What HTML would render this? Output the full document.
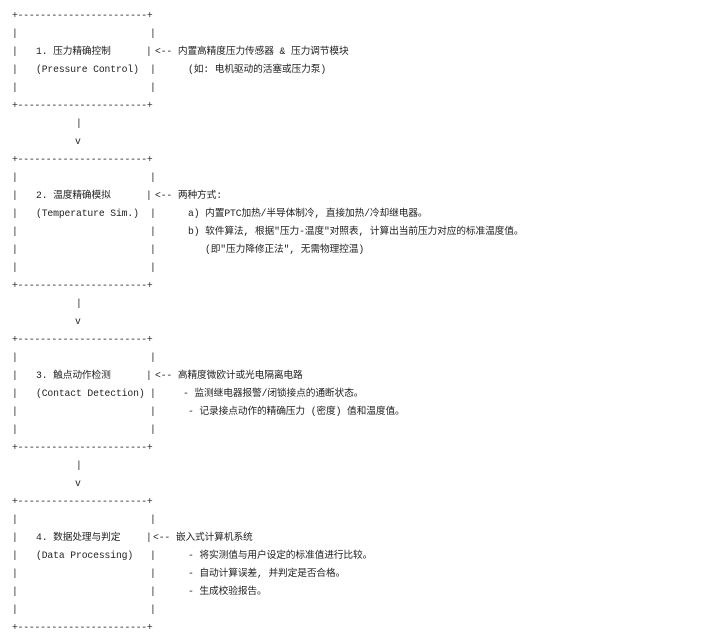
<!DOCTYPE html>
<html><head><meta charset="utf-8"><style>
html,body{margin:0;padding:0;background:#fff;}
body{width:709px;height:635px;position:relative;overflow:hidden;
font-family:"Liberation Mono","Noto Sans CJK SC",monospace;font-size:9.72px;color:#222;}
span{position:absolute;white-space:pre;line-height:18px;height:18px;letter-spacing:-0.12px;}
span.b{letter-spacing:-0.21px;}
</style></head><body>
<script>
const R=[];
function t(i,x,s,c){R.push(`<span${c?' class="b"':''} style="top:${7+18*i}px;left:${x}px">${s}</span>`);}
const B="+-----------------------+";
function bars(i,rx){t(i,12,"|");t(i,rx===undefined?150:rx,"|");}
function box(s,e){t(s,12,B,1);t(e,12,B,1);for(let i=s+1;i<e;i++)bars(i,i==s+2?146:150);}
box(0,5);box(8,15);box(18,24);box(27,34);
[6,16,25].forEach(i=>{t(i,76,"|");t(i+1,75,"v");});
t(2,36,"1. 压力精确控制");t(2,155,"&lt;-- 内置高精度压力传感器 &amp; 压力调节模块");
t(3,36,"(Pressure Control)");t(3,188,"(如: 电机驱动的活塞或压力泵)");
t(10,36,"2. 温度精确模拟");t(10,155,"&lt;-- 两种方式:");
t(11,36,"(Temperature Sim.)");t(11,188,"a) 内置PTC加热/半导体制冷, 直接加热/冷却继电器。");
t(12,188,"b) 软件算法, 根据\"压力-温度\"对照表, 计算出当前压力对应的标准温度值。");
t(13,205,"(即\"压力降修正法\", 无需物理控温)");
t(20,36,"3. 触点动作检测");t(20,155,"&lt;-- 高精度微欧计或光电隔离电路");
t(21,36,"(Contact Detection)");t(21,183,"- 监测继电器报警/闭锁接点的通断状态。");
t(22,188,"- 记录接点动作的精确压力 (密度) 值和温度值。");
t(29,36,"4. 数据处理与判定");t(29,153,"&lt;-- 嵌入式计算机系统");
t(30,36,"(Data Processing)");t(30,188,"- 将实测值与用户设定的标准值进行比较。");
t(31,188,"- 自动计算误差, 并判定是否合格。");
t(32,188,"- 生成校验报告。");
document.write(R.join(""));
</script>
</body></html>
